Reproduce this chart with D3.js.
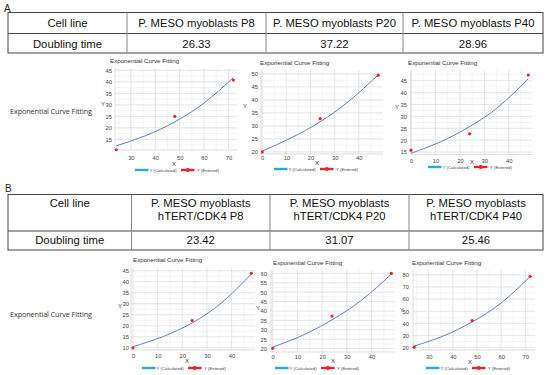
<!DOCTYPE html>
<html>
<head>
<meta charset="utf-8">
<script src="https://cdn.jsdelivr.net/npm/d3@7"></script>
<style>
  body { margin: 0; background: #fff; }
  svg { display: block; font-family: "Liberation Sans", Arial, sans-serif; }
</style>
</head>
<body>
<div id="chart"></div>
<script>
// table values
const tableHeadA = ['Cell line'];
const cellLinesA = [['P. MESO myoblasts P8'], ['P. MESO myoblasts P20'], ['P. MESO myoblasts P40']];
const doublingA = ['26.33', '37.22', '28.96'];
const cellLinesB = [['P. MESO myoblasts', 'hTERT/CDK4 P8'], ['P. MESO myoblasts', 'hTERT/CDK4 P20'], ['P. MESO myoblasts', 'hTERT/CDK4 P40']];
const doublingB = ['23.42', '31.07', '25.46'];

// fitted curves: entered points and calculated curve
const a1EnteredX = [24, 48, 72];
const a1EnteredY = [10.5, 25, 40.8];
const a1CalcX = [24, 36, 48, 60, 72];
const a1CalcY = [12.2, 16.6, 22.6, 30.8, 41.8];

const a2EnteredX = [0, 24, 48];
const a2EnteredY = [20, 32.8, 49.5];
const a2CalcX = [0, 12, 24, 36, 48];
const a2CalcY = [20.3, 25.4, 31.6, 39.6, 49.6];

const a3EnteredX = [0, 24, 48];
const a3EnteredY = [15.8, 22.7, 47.4];
const a3CalcX = [0, 12, 24, 36, 48];
const a3CalcY = [14.5, 19.3, 25.7, 34.2, 45.8];

const b1EnteredX = [0, 24, 48];
const b1EnteredY = [10, 22.4, 43.8];
const b1CalcX = [0, 12, 24, 36, 48];
const b1CalcY = [10.5, 15, 21.3, 30.5, 43.5];

const b2EnteredX = [0, 24, 48];
const b2EnteredY = [20.2, 37.3, 60];
const b2CalcX = [0, 12, 24, 36, 48];
const b2CalcY = [20.8, 27, 35.3, 45.8, 59.6];

const b3EnteredX = [24, 48, 72];
const b3EnteredY = [20.3, 42.3, 78.8];
const b3CalcX = [24, 36, 48, 60, 72];
const b3CalcY = [21.3, 29.5, 41.2, 56.8, 78.6];

// tick labels
const ticks0to40 = [0, 10, 20, 30, 40];
const ticks30to70 = [30, 40, 50, 60, 70];
const ticks15to45 = [15, 20, 25, 30, 35, 40, 45];
const ticks20to50 = [20, 25, 30, 35, 40, 45, 50];
const ticks10to45 = [10, 15, 20, 25, 30, 35, 40, 45];
const ticks20to60 = [20, 25, 30, 35, 40, 45, 50, 55, 60];
const ticks20to80 = [20, 30, 40, 50, 60, 70, 80];

const W = 550, H = 375;
const svg = d3.select('#chart').append('svg').attr('width', W).attr('height', H);

function drawTable(cfg) {
    const g = svg.append('g');
    const cols = [cfg.x0].concat(cfg.cols).concat([cfg.x1]);
    g.append('rect')
     .attr('x', cfg.x0).attr('y', cfg.y0)
     .attr('width', cfg.x1 - cfg.x0).attr('height', cfg.y1 - cfg.y0)
     .attr('fill', 'none').attr('stroke', '#444').attr('stroke-width', 1);
    g.append('line')
     .attr('x1', cfg.x0).attr('x2', cfg.x1).attr('y1', cfg.ymid).attr('y2', cfg.ymid)
     .attr('stroke', '#444');
    cfg.cols.forEach(function(c) {
        g.append('line').attr('x1', c).attr('x2', c).attr('y1', cfg.y0).attr('y2', cfg.y1).attr('stroke', '#888');
    });
    const heads = [tableHeadA].concat(cfg.heads);
    const values = ['Doubling time'].concat(cfg.values);
    heads.forEach(function(lines, i) {
        const cx = (cols[i] + cols[i + 1]) / 2;
        const ys = lines.length === 1 ? [cfg.headY[0]] : cfg.headY;
        lines.forEach(function(t, j) {
            g.append('text').attr('x', cx).attr('y', ys[j]).attr('text-anchor', 'middle')
             .attr('font-size', 11.3).attr('fill', '#111').text(t);
        });
    });
    values.forEach(function(t, i) {
        const cx = (cols[i] + cols[i + 1]) / 2;
        g.append('text').attr('x', cx).attr('y', cfg.valueY).attr('text-anchor', 'middle')
         .attr('font-size', 11.3).attr('fill', '#111').text(t);
    });
}

function drawFit(c) {
    const g = svg.append('g');
    const xScale = d3.scaleLinear().domain(c.xDomain).range([c.left, c.right]);
    const yScale = d3.scaleLinear().domain(c.yDomain).range([c.bottom, c.top]);

    // grid: major + minor
    const minorX = d3.range(c.xTicks[0] - (c.xTicks[1] - c.xTicks[0]), c.xDomain[1], (c.xTicks[1] - c.xTicks[0]) / 2)
                     .filter(function(v) { return v >= c.xDomain[0] && v <= c.xDomain[1]; });
    const minorY = d3.range(c.yTicks[0] - (c.yTicks[1] - c.yTicks[0]), c.yDomain[1], (c.yTicks[1] - c.yTicks[0]) / 2)
                     .filter(function(v) { return v >= c.yDomain[0] && v <= c.yDomain[1]; });
    g.selectAll('.mx').data(minorX).enter().append('line')
     .attr('x1', function(d) { return xScale(d); }).attr('x2', function(d) { return xScale(d); })
     .attr('y1', c.top).attr('y2', c.bottom).attr('stroke', '#efefef').attr('stroke-width', 0.6);
    g.selectAll('.my').data(minorY).enter().append('line')
     .attr('y1', function(d) { return yScale(d); }).attr('y2', function(d) { return yScale(d); })
     .attr('x1', c.left).attr('x2', c.right).attr('stroke', '#efefef').attr('stroke-width', 0.6);
    g.selectAll('.gx').data(c.xTicks).enter().append('line')
     .attr('x1', function(d) { return xScale(d); }).attr('x2', function(d) { return xScale(d); })
     .attr('y1', c.top).attr('y2', c.bottom).attr('stroke', '#e2e2e2').attr('stroke-width', 0.7);
    g.selectAll('.gy').data(c.yTicks).enter().append('line')
     .attr('y1', function(d) { return yScale(d); }).attr('y2', function(d) { return yScale(d); })
     .attr('x1', c.left).attr('x2', c.right).attr('stroke', '#e2e2e2').attr('stroke-width', 0.7);
    g.append('line').attr('x1', c.left).attr('x2', c.left).attr('y1', c.top).attr('y2', c.bottom)
     .attr('stroke', '#d0d0d0').attr('stroke-width', 0.7);
    g.append('line').attr('x1', c.left).attr('x2', c.right).attr('y1', c.bottom).attr('y2', c.bottom)
     .attr('stroke', '#d0d0d0').attr('stroke-width', 0.7);

    // axes via d3
    const xAxis = g.append('g').attr('transform', 'translate(0,' + c.bottom + ')')
                   .call(d3.axisBottom(xScale).tickValues(c.xTicks).tickSize(0).tickPadding(c.xPad));
    const yAxis = g.append('g').attr('transform', 'translate(' + c.left + ',0)')
                   .call(d3.axisLeft(yScale).tickValues(c.yTicks).tickSize(0).tickPadding(c.yPad));
    [xAxis, yAxis].forEach(function(a) {
        a.select('.domain').remove();
        a.selectAll('text').attr('font-size', 5.8).attr('fill', '#444')
         .attr('font-family', '"Liberation Sans", Arial, sans-serif');
    });

    // curve
    const calc = c.calcX.map(function(x, i) { return [x, c.calcY[i]]; });
    const line = d3.line()
                   .x(function(d) { return xScale(d[0]); })
                   .y(function(d) { return yScale(d[1]); })
                   .curve(d3.curveNatural);
    g.append('path').datum(calc).attr('d', line)
     .attr('fill', 'none').attr('stroke', '#5f82ba').attr('stroke-width', 1);

    // entered points
    const pts = c.enteredX.map(function(x, i) { return [x, c.enteredY[i]]; });
    g.selectAll('.pt').data(pts).enter().append('circle')
     .attr('cx', function(d) { return xScale(d[0]); })
     .attr('cy', function(d) { return yScale(d[1]); })
     .attr('r', 1.6).attr('fill', '#e3262a');

    // labels
    g.append('text').attr('x', c.titleX).attr('y', c.top - 5).attr('font-size', 6.2).attr('fill', '#333')
     .text('Exponential Curve Fitting');
    g.append('text').attr('x', c.yLabelX).attr('y', c.yLabelY).attr('font-size', 6).attr('fill', '#333').text('Y');
    g.append('text').attr('x', c.xLabelX).attr('y', c.xLabelY).attr('font-size', 6).attr('fill', '#333')
     .attr('text-anchor', 'middle').text('X');

    // legend
    const lx = c.legendX, ly = c.legendY;
    g.append('line').attr('x1', lx).attr('x2', lx + 13.5).attr('y1', ly).attr('y2', ly)
     .attr('stroke', '#2aa9e0').attr('stroke-width', 2.4);
    g.append('text').attr('x', lx + 14.5).attr('y', ly + 1.5).attr('font-size', 4.3).attr('fill', '#444').text('Y (Calculated)');
    g.append('line').attr('x1', lx + 46).attr('x2', lx + 59.5).attr('y1', ly).attr('y2', ly)
     .attr('stroke', '#e3262a').attr('stroke-width', 2.4);
    g.append('circle').attr('cx', lx + 52.8).attr('cy', ly).attr('r', 2).attr('fill', '#e3262a');
    g.append('text').attr('x', lx + 62).attr('y', ly + 1.5).attr('font-size', 4.3).attr('fill', '#444').text('Y (Entered)');
}

// panel letters
svg.append('text').attr('x', 4).attr('y', 12).attr('font-size', 10).attr('fill', '#222').text('A');
svg.append('text').attr('x', 5).attr('y', 192).attr('font-size', 10).attr('fill', '#222').text('B');

drawTable({x0: 8, x1: 543, y0: 12.5, y1: 53, ymid: 33.5, cols: [127, 266, 403],
           heads: cellLinesA, values: doublingA, headY: [27], valueY: 47.5});
drawTable({x0: 8, x1: 543, y0: 194.5, y1: 250, ymid: 231, cols: [131.5, 270, 409],
           heads: cellLinesB, values: doublingB, headY: [207, 220], valueY: 244});

// side labels
svg.append('text').attr('x', 10).attr('y', 114).attr('font-size', 7.3).attr('fill', '#333')
   .attr('font-family', '"Open Sans", sans-serif').attr('textLength', 82).text('Exponential Curve Fitting');
svg.append('text').attr('x', 10).attr('y', 317).attr('font-size', 7.3).attr('fill', '#333')
   .attr('font-family', '"Open Sans", sans-serif').attr('textLength', 82).text('Exponential Curve Fitting');

drawFit({enteredX: a1EnteredX, enteredY: a1EnteredY, calcX: a1CalcX, calcY: a1CalcY,
         xDomain: [23.5, 73.5], yDomain: [10.4, 46], left: 115, right: 237, top: 68, bottom: 150,
         xTicks: ticks30to70, yTicks: ticks15to45, xPad: 6, yPad: 3,
         titleX: 110, yLabelX: 101, yLabelY: 106, xLabelX: 174, xLabelY: 166, legendX: 135, legendY: 170});
drawFit({enteredX: a2EnteredX, enteredY: a2EnteredY, calcX: a2CalcX, calcY: a2CalcY,
         xDomain: [-0.5, 50], yDomain: [19.2, 51.5], left: 261, right: 383, top: 70, bottom: 154,
         xTicks: ticks0to40, yTicks: ticks20to50, xPad: 2, yPad: 3,
         titleX: 260, yLabelX: 243, yLabelY: 108, xLabelX: 317, xLabelY: 165, legendX: 274, legendY: 169});
drawFit({enteredX: a3EnteredX, enteredY: a3EnteredY, calcX: a3CalcX, calcY: a3CalcY,
         xDomain: [0, 49.5], yDomain: [14, 49.5], left: 411, right: 532, top: 70, bottom: 154.5,
         xTicks: ticks0to40, yTicks: ticks15to45, xPad: 4, yPad: 4,
         titleX: 408, yLabelX: 395, yLabelY: 109, xLabelX: 472, xLabelY: 164, legendX: 428, legendY: 167});

drawFit({enteredX: b1EnteredX, enteredY: b1EnteredY, calcX: b1CalcX, calcY: b1CalcY,
         xDomain: [-0.8, 49.5], yDomain: [9, 46.5], left: 131, right: 255, top: 267.4, bottom: 350,
         xTicks: ticks0to40, yTicks: ticks10to45, xPad: 4, yPad: 2,
         titleX: 133, yLabelX: 118, yLabelY: 308, xLabelX: 187, xLabelY: 363, legendX: 142, legendY: 368});
drawFit({enteredX: b2EnteredX, enteredY: b2EnteredY, calcX: b2CalcX, calcY: b2CalcY,
         xDomain: [-0.7, 49.5], yDomain: [18.2, 61.8], left: 271, right: 395, top: 270, bottom: 352,
         xTicks: ticks0to40, yTicks: ticks20to60, xPad: 3, yPad: 4,
         titleX: 273, yLabelX: 256, yLabelY: 310, xLabelX: 333, xLabelY: 363, legendX: 275, legendY: 368});
drawFit({enteredX: b3EnteredX, enteredY: b3EnteredY, calcX: b3CalcX, calcY: b3CalcY,
         xDomain: [23.5, 74], yDomain: [18, 84], left: 413, right: 535, top: 270, bottom: 350,
         xTicks: ticks30to70, yTicks: ticks20to80, xPad: 5, yPad: 4,
         titleX: 412, yLabelX: 400, yLabelY: 312, xLabelX: 470, xLabelY: 364, legendX: 426, legendY: 368});
</script>
</body>
</html>
